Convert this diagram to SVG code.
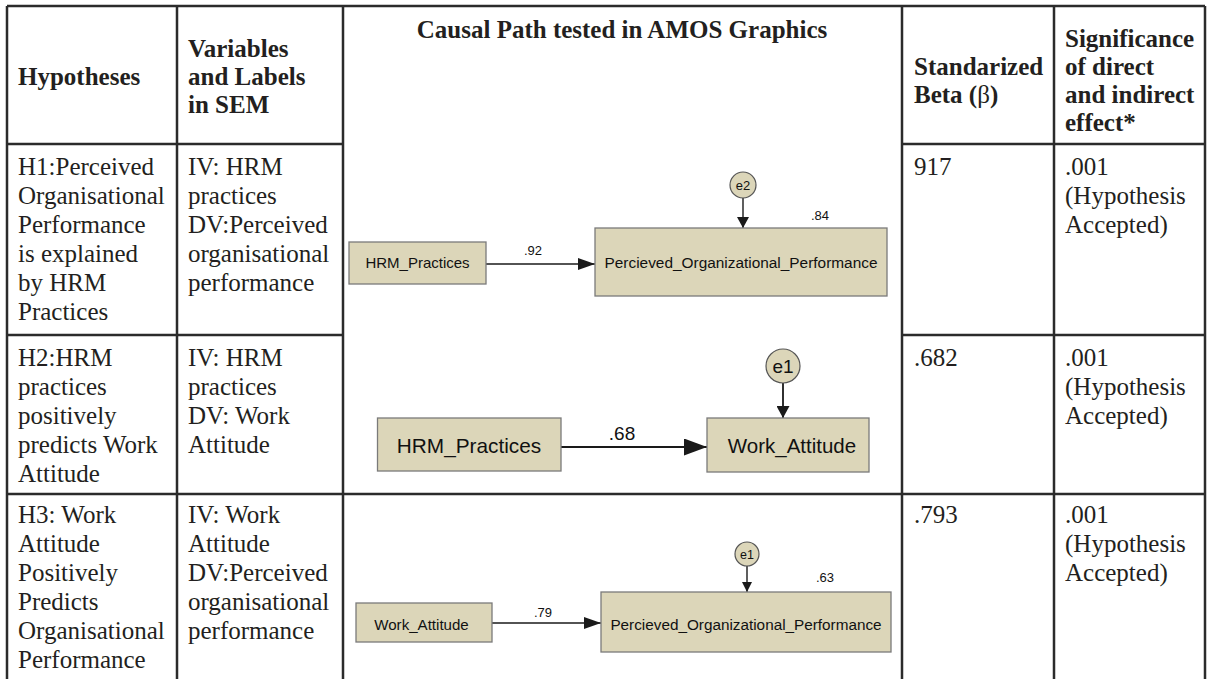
<svg xmlns="http://www.w3.org/2000/svg" width="1209" height="679" viewBox="0 0 1209 679">
<style>
.grid{stroke:#2b2b2b;stroke-width:2.5;fill:none}
.h{font-family:"Liberation Serif",serif;font-size:25px;font-weight:bold;fill:#231f20}
.t{font-family:"Liberation Serif",serif;font-size:25px;fill:#231f20}
.box{fill:#dcd6b9;stroke:#7a7a7a;stroke-width:1.3}
.err{fill:#dcd6b9;stroke:#555;stroke-width:1.2}
.lbl{font-family:"Liberation Sans",Arial,sans-serif;fill:#111;text-anchor:middle}
.num{font-family:"Liberation Sans",Arial,sans-serif;fill:#111}
.con{stroke:#1a1a1a;fill:none}
</style>
<defs>
<marker id="aS" viewBox="0 0 10 10" refX="10" refY="5" markerWidth="11" markerHeight="12" markerUnits="userSpaceOnUse" orient="auto" preserveAspectRatio="none"><path d="M0,0 L10,5 L0,10 z" fill="#1a1a1a"/></marker>
<marker id="aM" viewBox="0 0 10 10" refX="10" refY="5" markerWidth="17" markerHeight="12" markerUnits="userSpaceOnUse" orient="auto" preserveAspectRatio="none"><path d="M0,0 L10,5 L0,10 z" fill="#1a1a1a"/></marker>
<marker id="aL" viewBox="0 0 10 10" refX="10" refY="5" markerWidth="23" markerHeight="17" markerUnits="userSpaceOnUse" orient="auto" preserveAspectRatio="none"><path d="M0,0 L10,5 L0,10 z" fill="#1a1a1a"/></marker>
<marker id="aV" viewBox="0 0 10 10" refX="10" refY="5" markerWidth="12" markerHeight="13" markerUnits="userSpaceOnUse" orient="auto" preserveAspectRatio="none"><path d="M0,0 L10,5 L0,10 z" fill="#1a1a1a"/></marker>
<marker id="aT" viewBox="0 0 10 10" refX="10" refY="5" markerWidth="10" markerHeight="10" markerUnits="userSpaceOnUse" orient="auto" preserveAspectRatio="none"><path d="M0,0 L10,5 L0,10 z" fill="#1a1a1a"/></marker>
</defs>
<rect width="1209" height="679" fill="#fff"/>
<g id="table-grid">
<line class="grid" x1="7" y1="6" x2="1205" y2="6"/>
<line class="grid" x1="7" y1="144" x2="343" y2="144"/>
<line class="grid" x1="902" y1="144" x2="1205" y2="144"/>
<line class="grid" x1="7" y1="335" x2="343" y2="335"/>
<line class="grid" x1="902" y1="335" x2="1205" y2="335"/>
<line class="grid" x1="7" y1="494" x2="1205" y2="494"/>
<line class="grid" x1="7" y1="6" x2="7" y2="679"/>
<line class="grid" x1="177" y1="6" x2="177" y2="679"/>
<line class="grid" x1="343" y1="6" x2="343" y2="679"/>
<line class="grid" x1="902" y1="6" x2="902" y2="679"/>
<line class="grid" x1="1054" y1="6" x2="1054" y2="679"/>
<line class="grid" x1="1205" y1="6" x2="1205" y2="679"/>
</g>
<g id="header">
<text class="h" x="18" y="85">Hypotheses</text>
<text class="h" x="188" y="57">Variables</text>
<text class="h" x="188" y="85">and Labels</text>
<text class="h" x="188" y="113">in SEM</text>
<text class="h" x="622" y="38" text-anchor="middle">Causal Path tested in AMOS Graphics</text>
<text class="h" x="914" y="75">Standarized</text>
<text class="h" x="914" y="103">Beta (<tspan font-weight="normal">β</tspan>)</text>
<text class="h" x="1065" y="47">Significance</text>
<text class="h" x="1065" y="75">of direct</text>
<text class="h" x="1065" y="103">and indirect</text>
<text class="h" x="1065" y="131">effect*</text>
</g>
<g id="row1-text">
<text class="t" x="18" y="175">H1:Perceived</text>
<text class="t" x="18" y="204">Organisational</text>
<text class="t" x="18" y="233">Performance</text>
<text class="t" x="18" y="262">is explained</text>
<text class="t" x="18" y="291">by HRM</text>
<text class="t" x="18" y="320">Practices</text>
<text class="t" x="188" y="175">IV: HRM</text>
<text class="t" x="188" y="204">practices</text>
<text class="t" x="188" y="233">DV:Perceived</text>
<text class="t" x="188" y="262">organisational</text>
<text class="t" x="188" y="291">performance</text>
<text class="t" x="914" y="175">917</text>
<text class="t" x="1065" y="175">.001</text>
<text class="t" x="1065" y="204">(Hypothesis</text>
<text class="t" x="1065" y="233">Accepted)</text>
</g>
<g id="row2-text">
<text class="t" x="18" y="366">H2:HRM</text>
<text class="t" x="18" y="395">practices</text>
<text class="t" x="18" y="424">positively</text>
<text class="t" x="18" y="453">predicts Work</text>
<text class="t" x="18" y="482">Attitude</text>
<text class="t" x="188" y="366">IV: HRM</text>
<text class="t" x="188" y="395">practices</text>
<text class="t" x="188" y="424">DV: Work</text>
<text class="t" x="188" y="453">Attitude</text>
<text class="t" x="914" y="366">.682</text>
<text class="t" x="1065" y="366">.001</text>
<text class="t" x="1065" y="395">(Hypothesis</text>
<text class="t" x="1065" y="424">Accepted)</text>
</g>
<g id="row3-text">
<text class="t" x="18" y="523">H3: Work</text>
<text class="t" x="18" y="552">Attitude</text>
<text class="t" x="18" y="581">Positively</text>
<text class="t" x="18" y="610">Predicts</text>
<text class="t" x="18" y="639">Organisational</text>
<text class="t" x="18" y="668">Performance</text>
<text class="t" x="188" y="523">IV: Work</text>
<text class="t" x="188" y="552">Attitude</text>
<text class="t" x="188" y="581">DV:Perceived</text>
<text class="t" x="188" y="610">organisational</text>
<text class="t" x="188" y="639">performance</text>
<text class="t" x="914" y="523">.793</text>
<text class="t" x="1065" y="523">.001</text>
<text class="t" x="1065" y="552">(Hypothesis</text>
<text class="t" x="1065" y="581">Accepted)</text>
</g>
<g id="connectors">
<line class="con" stroke-width="1.6" x1="486" y1="264" x2="595" y2="264" marker-end="url(#aM)"/>
<line class="con" stroke-width="1.4" x1="743" y1="198" x2="743" y2="228" marker-end="url(#aS)"/>
<line class="con" stroke-width="2" x1="561" y1="447" x2="707" y2="447" marker-end="url(#aL)"/>
<line class="con" stroke-width="1.8" x1="783" y1="383" x2="783" y2="418" marker-end="url(#aV)"/>
<line class="con" stroke-width="1.6" x1="492" y1="623" x2="601" y2="623" marker-end="url(#aM)"/>
<line class="con" stroke-width="1.4" x1="747" y1="566" x2="747" y2="592" marker-end="url(#aT)"/>
<text class="num" x="533" y="255" font-size="13" text-anchor="middle">.92</text>
<text class="num" x="820" y="220" font-size="13" text-anchor="middle">.84</text>
<text class="num" x="622" y="440" font-size="19" text-anchor="middle">.68</text>
<text class="num" x="543" y="617" font-size="13" text-anchor="middle">.79</text>
<text class="num" x="825" y="582" font-size="13" text-anchor="middle">.63</text>
</g>
<g id="n1-hrm">
<rect class="box" x="349" y="242" width="137" height="42"/>
<text class="lbl" x="417.5" y="268" font-size="15">HRM_Practices</text>
</g>
<g id="n1-perf">
<rect class="box" x="595" y="228" width="292" height="68"/>
<text class="lbl" x="741" y="268" font-size="15.4">Percieved_Organizational_Performance</text>
</g>
<g id="n1-e2">
<circle class="err" cx="743" cy="185" r="13"/>
<text class="lbl" x="743" y="190" font-size="13">e2</text>
</g>
<g id="n2-hrm">
<rect class="box" x="377.5" y="418" width="183.5" height="53"/>
<text class="lbl" x="469" y="453" font-size="20.8">HRM_Practices</text>
</g>
<g id="n2-work">
<rect class="box" x="707" y="418" width="162" height="54"/>
<text class="lbl" x="792" y="453" font-size="20.5">Work_Attitude</text>
</g>
<g id="n2-e1">
<circle class="err" cx="783" cy="366" r="17"/>
<text class="lbl" x="783" y="373" font-size="19">e1</text>
</g>
<g id="n3-work">
<rect class="box" x="356" y="603" width="136" height="39"/>
<text class="lbl" x="421.5" y="630" font-size="15.1">Work_Attitude</text>
</g>
<g id="n3-perf">
<rect class="box" x="601" y="592" width="290" height="60"/>
<text class="lbl" x="746" y="630" font-size="15.3">Percieved_Organizational_Performance</text>
</g>
<g id="n3-e1">
<circle class="err" cx="747" cy="554" r="12"/>
<text class="lbl" x="747" y="559" font-size="12.5">e1</text>
</g>
</svg>
